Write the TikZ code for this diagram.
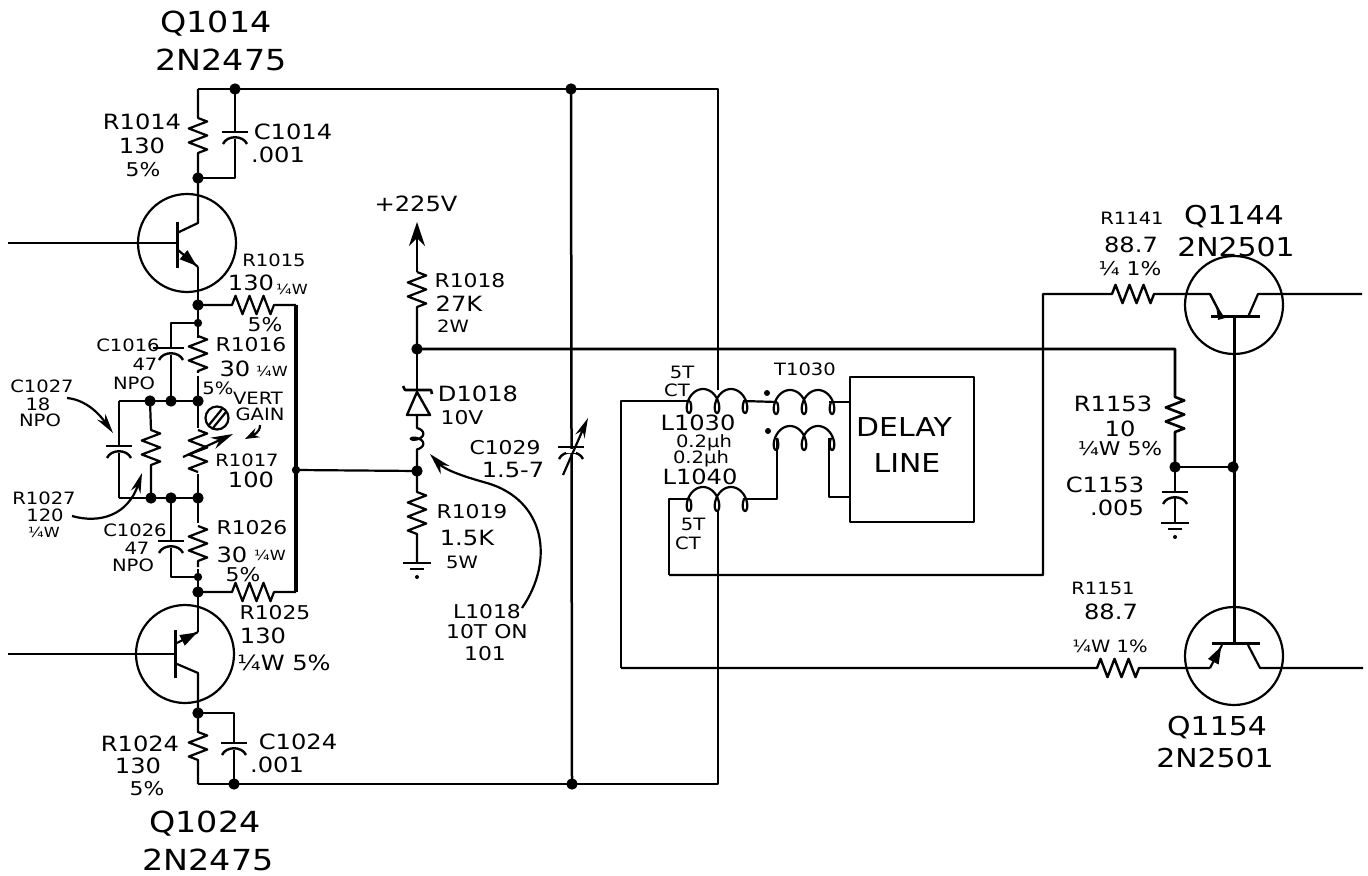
\documentclass[tikz,border=0pt]{standalone}
\usepackage{fontspec}
\setmainfont[FakeStretch=1.15]{DejaVu Sans}
\usetikzlibrary{arrows.meta}
\usetikzlibrary{calc, decorations, decorations.markings, decorations.pathmorphing}
\tikzset{
    bareR/.style={decoration={zigzag,amplitude=4.6pt,segment length=7pt}},
    emit/.style={
        decoration={
            markings,
            mark= at position #1 with
                {
                    \fill (-4.5pt,3pt) -- (4pt,0pt) -- (-4.5pt,-3pt) -- cycle;
                },
        },
        postaction={decorate}
    },
    emit/.default={0.7}
}
\tikzset{
    jdot/.style={draw, fill=black, circle, inner sep=0pt, minimum size=4.5pt},
    jdotS/.style={jdot, minimum size=3pt},
    qcirc/.style={draw, circle, inner sep=0pt, line width=1.1pt, minimum size=49pt},
    lblL/.style={font=\fontsize{14.5}{15}\selectfont, inner sep=0pt},
    lblK/.style={font=\fontsize{13}{14}\selectfont, inner sep=0pt},
    lblM/.style={font=\fontsize{10.5}{11}\selectfont, inner sep=0pt},
    lblN/.style={font=\fontsize{9.5}{10}\selectfont, inner sep=0pt},
    lblS/.style={font=\fontsize{8.5}{9}\selectfont, inner sep=0pt},
    lblT/.style={font=\fontsize{7}{8}\selectfont, inner sep=0pt},
    capv/.pic={
        \draw[line width=1.2pt] (-13,0) -- (13,0);
        \draw[line width=1.2pt] (-12,12) .. controls (-8,3) and (8,3) .. (12,12);
    },
    gnd/.pic={
        \draw[line width=1.2pt] (-14,0) -- (14,0);
        \draw[line width=1.2pt] (-7,6) -- (7,6);
        \fill (0,14) circle (1pt);
    },
    coilh/.pic={
        \draw plot[domain=-90:810,samples=91,smooth] ({\x/360*28-8*sin(\x)-1},{12*cos(\x)});
    }
}
\begin{document}
\begin{tikzpicture}[x=0.5pt,y=-0.5pt,line width=1.1pt,line join=round]
    \useasboundingbox (0,0) rectangle (1368,876);
    \def \RW {1.25pt}
    % rails
    \coordinate (tl) at (198,89);
    \coordinate (tc) at (235,89);
    \coordinate (tm) at (571,89);
    \coordinate (tr) at (718,89);
    \coordinate (bl) at (198,784);
    \coordinate (bc) at (234,784);
    \coordinate (bm) at (572,784);
    \coordinate (br) at (718,784);
    \draw[line width=\RW] (bl) -- (br) -- (718,511);
    \draw[line width=\RW] (tl) -- (tr) -- (718,390);
    \draw[line width=\RW] (tm) -- (bm);
    % upper amplifier
    \coordinate (j14) at (198,178);
    \coordinate (j15) at (198,305);
    \coordinate (j16) at (198,323);
    \coordinate (j17) at (198,401);
    \coordinate (j17b) at (171,401);
    \coordinate (j17c) at (150,401);
    \coordinate (j27) at (198,498);
    \coordinate (j27b) at (171,498);
    \coordinate (j27c) at (151,498);
    \coordinate (j26) at (198,577);
    \coordinate (j25) at (198,592);
    \coordinate (j24) at (198,713);
    \coordinate (jout) at (296,470);
    \coordinate (jz) at (417,471);
    \coordinate (jv) at (417,349);
    \coordinate (jq) at (1233,467);
    \coordinate (jr) at (1175,467);
    \node[qcirc] (Q1014) at (187,243) {};
    \node[qcirc] (Q1024) at (185,654) {};
    \node[qcirc] (Q1144) at (1234,305) {};
    \node[qcirc] (Q1154) at (1234,656) {};

    \coordinate (c14a) at (235,132);
    \coordinate (c14b) at (235,139);
    \draw (tl) -- (198,118) decorate[bareR]{-- (198,158)} -- (j14);
    \draw (tc) -- (c14a);
    \draw (c14b) -- (235,178) -- (j14);
    \pic at (c14a) {capv};

    \coordinate (q14b) at (177,243);
    \coordinate (q14c) at (198,223);
    \coordinate (q14e) at (198,267);
    \draw (8,243) -- (q14b);
    \draw[line width=1.5pt] (177,222) -- (177,268);
    \draw (j14) -- (q14c) -- (177,233);
    \draw[emit=0.62] (178,250) -- (q14e);
    \draw (q14e) -- (j15);

    \draw (j15) -- (j25);
    \draw (j15) -- (232,305) decorate[bareR]{-- (275,305)} -- (296,305);
    \draw (j25) -- (232,592) decorate[bareR]{-- (277,592)} -- (296,592);
    \draw[line width=1.6pt] (296,305) -- (296,592);
    \draw (jout) -- (jz);
    \fill[white] (189,338) rectangle (207,376);
    \fill[white] (189,428) rectangle (207,474);
    \fill[white] (189,523) rectangle (207,569);
    \draw (198,336) decorate[bareR]{-- (198,373)};
    \draw (198,430) decorate[bareR]{-- (198,472)};
    \draw (198,526) decorate[bareR]{-- (198,567)};
    \coordinate (c16a) at (171,348);
    \coordinate (c16b) at (171,355);
    \draw (j16) -- (171,323) -- (c16a);
    \draw (c16b) -- (j17b);
    \draw (153,348) -- (c16a);
    \pic at (c16a) {capv};
    \draw[line width=1.3pt] (119,401) -- (j17);
    \draw[line width=1.3pt] (119,498) -- (j27);
    \coordinate (c27a) at (119,446);
    \coordinate (c27b) at (119,453);
    \draw (119,401) -- (c27a);
    \draw (c27b) -- (119,498);
    \pic at (c27a) {capv};
    \draw (j17c) -- (151,430) decorate[bareR]{-- (151,470)} -- (j27c);
    \draw[-{Stealth[length=11pt,width=6pt]}] (183,457) -- (233,434);
    \coordinate (c26a) at (171,541);
    \coordinate (c26b) at (171,548);
    \draw (j27b) -- (c26a);
    \draw (c26b) -- (171,577) -- (j26);
    \pic at (c26a) {capv};
    % gain adjust
    \draw (217,418) circle (11.5);
    \draw (209,425) -- (222,409);
    \draw (213,428) -- (226,412);
    \draw[-{Stealth[length=7pt,width=5pt]}] (260,425) .. controls (260,433) and (253,435) .. (245,439);
    % pointers for C1027, R1027
    \coordinate (pc27) at (113,433);
    \coordinate (pr27) at (142,473);
    \draw[-{Stealth[length=10pt,width=5pt]}] (67,398) .. controls (87,400) and (100,415) .. (pc27);
    \draw[-{Stealth[length=10pt,width=5pt]}] (72,516) .. controls (100,524) and (128,515) .. (pr27);

    % lower amplifier
    \coordinate (q24c) at (198,673);
    \coordinate (q24e) at (198,632);
    \draw (8,654) -- (175,654);
    \draw[line width=1.5pt] (175,630) -- (175,678);
    \draw[emit=0.62] (177,643) -- (q24e);
    \draw (j25) -- (q24e);
    \draw (177,664) -- (q24c) -- (j24);
    \coordinate (c24a) at (234,743);
    \coordinate (c24b) at (234,750);
    \draw (j24) -- (198,732) decorate[bareR]{-- (198,766)} -- (bl);
    \draw (j24) -- (234,713) -- (c24a);
    \draw (c24b) -- (bc);
    \pic at (c24a) {capv};

    % supply branch
    \coordinate (vtip) at (417,222);
    \coordinate (d1) at (417,392);
    \coordinate (d2) at (417,415);
    \draw[-{Stealth[length=12pt,width=8pt]}] (417,272) -- (vtip);
    \draw (417,272) decorate[bareR]{-- (417,307)} -- (jv);
    \draw[line width=1.3pt] (jv) -- (1175,349) -- (1175,397) decorate[bareR]{-- (1175,437)} -- (jr);
    \draw (jv) -- (d1);
    \draw[line width=1.3pt] (403,386) -- (405,390) -- (431,390) -- (432,394);
    \draw[line width=1.2pt] (d1) -- (430,415) -- (407,415) -- cycle;
    \draw (d2) -- (417,428) decorate[decoration={coil,amplitude=3.2pt,segment length=5pt,aspect=0.5}]{-- (417,452)} -- (jz);
    \draw (jz) -- (417,492) decorate[bareR]{-- (417,537)} -- (417,563);
    \pic at (417,563) {gnd};
    \draw[-{Stealth[length=11pt,width=6pt]}] (522,608) .. controls (555,560) and (545,500) .. (487,483) .. controls (465,477) and (445,470) .. (430,454);

    % variable capacitor
    \coordinate (c29a) at (571,447);
    \pic at (c29a) {capv};
    \fill[white] (566,448.5) rectangle (576,453);
    \draw[-{Stealth[length=10pt,width=5pt]}] (563,475) -- (588,418);

    % delay line input
    \coordinate (l30a) at (690,401);
    \coordinate (l30b) at (743,401);
    \coordinate (t1a) at (777,402);
    \coordinate (t1b) at (829,402);
    \coordinate (l40a) at (690,499);
    \coordinate (l40b) at (743,499);
    \coordinate (t2a) at (777,438);
    \coordinate (t2b) at (829,438);
    \node[draw, line width=1.4pt, inner sep=0pt, minimum width=62pt, minimum height=72.5pt] (delay) at (912,449.5) {};
    \draw[line width=1.4pt] (621,668) -- (621,401) -- (l30a);
    \draw (l30b) -- (t1a);
    \draw (t1b) -- (delay.west |- t1b);
    \draw (669,575) -- (669,499) -- (l40a);
    \draw (l40b) -- (777,499) -- (t2a);
    \draw (t2b) -- (829,497) -- (delay.west |- 829,497);
    \pic at (l30a) {coilh};
    \pic at (t1a) {coilh};
    \pic at (l40a) {coilh};
    \pic at (t2a) {coilh};
    \fill (767,393) circle (1.5pt);
    \fill (768,431) circle (1.5pt);

    % output stage
    \draw[line width=1.2pt] (669,575) -- (1043,575) -- (1043,294) -- (1112,294) decorate[bareR]{-- (1157,294)} -- (1210,294) -- (1222,317);
    \draw (1248,317) -- (1258,294) -- (1362,294);
    \draw[line width=1.5pt] (1211,317) -- (1260,317);
    \draw[line width=1.5pt] (1212,643) -- (1260,643);
    \draw[line width=1.5pt] (1234,317) -- (1234,643);
    \fill (1216,305) -- (1225,318) -- (1218,320) -- cycle;
    \draw[line width=1.2pt] (jr) -- (jq);
    \draw[line width=1.2pt] (621,668) -- (1097,668) decorate[bareR]{-- (1140,668)} -- (1210,668);
    \draw[emit=0.62] (1210,668) -- (1222,645);
    \draw (1248,645) -- (1260,668) -- (1363,668);
    \coordinate (c53a) at (1175,492);
    \coordinate (c53b) at (1175,498);
    \draw (jr) -- (c53a);
    \draw (c53b) -- (1175,523);
    \pic at (c53a) {capv};
    \pic at (1175,523) {gnd};

    % junctions
    \foreach \p in {tc,tm,bc,bm,j14,j15,j17,j17b,j17c,j27,j27b,j27c,j25,j24,jz,jv,jq,jr}
        \node[jdot] (d\p) at (\p) {};
    \foreach \p in {j16,j26,jout}
        \node[jdotS] (d\p) at (\p) {};

    % labels
    \node[lblL] (q14n) at (216,24) {Q1014};
    \node[lblL] (q14t) at (221,60) {2N2475};
    \node[lblM] (r14n) at (142,122) {R1014};
    \node[lblM] (r14v) at (142,146) {130};
    \node[lblN] (r14t) at (143,170) {5\%};
    \node[lblM] (c14n) at (293,132) {C1014};
    \node[lblM] (c14v) at (278,155) {.001};
    \node[lblS] (r15n) at (274,260) {R1015};
    \node[lblM] (r15v) at (251,283) {130};
    \node[lblT] (r15w) at (292,289) {¼W};
    \node[lblN] (r15t) at (265,325) {5\%};
    \node[lblN] (r16n) at (251,345) {R1016};
    \node[lblM] (r16v) at (235,369) {30};
    \node[lblT] (r16w) at (272,371) {¼W};
    \node[lblS] (r16t) at (218,388) {5\%};
    \node[lblS] (c16n) at (128,345) {C1016};
    \node[lblS] (c16v) at (145,364) {47};
    \node[lblS] (c16t) at (134,383) {NPO};
    \node[lblS] (c27n) at (42,386) {C1027};
    \node[lblS] (c27v) at (38,404) {18};
    \node[lblS] (c27t) at (40,420) {NPO};
    \node[lblS] (vert) at (258,398) {VERT};
    \node[lblS] (gain) at (260,414) {GAIN};
    \node[lblS] (r17n) at (247,460) {R1017};
    \node[lblM] (r17v) at (251,480) {100};
    \node[lblS] (r27n) at (44,498) {R1027};
    \node[lblS] (r27v) at (45,515) {120};
    \node[lblT] (r27w) at (44,532) {¼W};
    \node[lblS] (c26n) at (135,530) {C1026};
    \node[lblS] (c26v) at (137,548) {47};
    \node[lblS] (c26t) at (133,565) {NPO};
    \node[lblN] (r26n) at (252,528) {R1026};
    \node[lblM] (r26v) at (232,555) {30};
    \node[lblT] (r26w) at (270,555) {¼W};
    \node[lblN] (r26t) at (243,575) {5\%};
    \node[lblN] (r25n) at (275,613) {R1025};
    \node[lblM] (r25v) at (263,636) {130};
    \node[lblM] (r25w) at (284,663) {¼W 5\%};
    \node[lblM] (r24n) at (140,744) {R1024};
    \node[lblM] (r24v) at (138,766) {130};
    \node[lblN] (r24t) at (147,789) {5\%};
    \node[lblM] (c24n) at (298,742) {C1024};
    \node[lblM] (c24v) at (277,765) {.001};
    \node[lblL] (q24n) at (205,824) {Q1024};
    \node[lblL] (q24t) at (208,860) {2N2475};
    \node[lblM] (vlbl) at (416,204) {+225V};
    \node[lblN] (r18n) at (470,281) {R1018};
    \node[lblM] (r18v) at (459,304) {27K};
    \node[lblS] (r18w) at (453,326) {2W};
    \node[lblM] (d18n) at (478,394) {D1018};
    \node[lblN] (d18v) at (462,418) {10V};
    \node[lblN] (r19n) at (472,512) {R1019};
    \node[lblM] (r19v) at (467,538) {1.5K};
    \node[lblS] (r19w) at (462,562) {5W};
    \node[lblN] (l18n) at (487,612) {L1018};
    \node[lblN] (l18t) at (487,632) {10T ON};
    \node[lblN] (l18v) at (485,654) {101};
    \node[lblN] (c29n) at (505,448) {C1029};
    \node[lblM] (c29v) at (513,470) {1.5-7};
    \node[lblS] (l30t) at (682,372) {5T};
    \node[lblS] (l30c) at (677,390) {CT};
    \node[lblS] (t30n) at (805,369) {T1030};
    \node[lblM] (l30n) at (698,423) {L1030};
    \node[lblS] (l30v) at (704,443) {0.2µh};
    \node[lblS] (l40v) at (701,459) {0.2µh};
    \node[lblM] (l40n) at (700,477) {L1040};
    \node[lblS] (l40t) at (693,524) {5T};
    \node[lblS] (l40c) at (688,543) {CT};
    \node[lblK] (dly1) at (904,427) {DELAY};
    \node[lblK] (dly2) at (907,463) {LINE};
    \node[lblS] (r41n) at (1132,218) {R1141};
    \node[lblM] (r41v) at (1131,245) {88.7};
    \node[lblN] (r41t) at (1130,269) {¼ 1\%};
    \node[lblK] (q44n) at (1234,217) {Q1144};
    \node[lblK] (q44t) at (1236,247) {2N2501};
    \node[lblM] (r53n) at (1113,404) {R1153};
    \node[lblM] (r53v) at (1120,429) {10};
    \node[lblN] (r53t) at (1120,449) {¼W 5\%};
    \node[lblM] (c53n) at (1105,485) {C1153};
    \node[lblM] (c53v) at (1117,508) {.005};
    \node[lblS] (r51n) at (1103,588) {R1151};
    \node[lblM] (r51v) at (1111,612) {88.7};
    \node[lblS] (r51t) at (1110,646) {¼W 1\%};
    \node[lblK] (q54n) at (1217,728) {Q1154};
    \node[lblK] (q54t) at (1215,758) {2N2501};
\end{tikzpicture}
\end{document}
